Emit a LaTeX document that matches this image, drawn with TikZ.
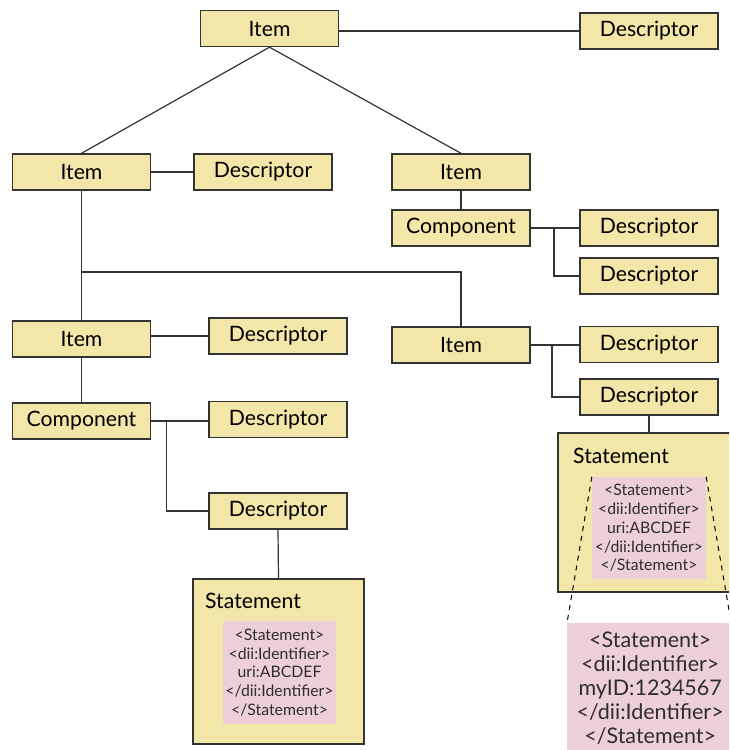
\documentclass[tikz,border=0pt]{standalone}
\usepackage{fontspec}
\setmainfont{Lato}
\usetikzlibrary{calc}
\definecolor{boxyellow}{HTML}{F2E6A8}
\definecolor{boxpink}{HTML}{ECCFD8}
\definecolor{edgegrey}{HTML}{333333}
\tikzset{
  ybox/.style={draw=edgegrey, line width=1.4pt, fill=boxyellow, minimum width=138pt, minimum height=36pt, inner sep=0pt, font=\fontsize{21.2}{23}\selectfont},
  stbox/.style={draw=edgegrey, line width=1.4pt, fill=boxyellow, inner sep=0pt},
  pinkbox/.style={fill=boxpink, inner sep=0pt, align=center, text=edgegrey!90!black},
  smalltxt/.style={font=\fontsize{15.8}{18.7}\selectfont},
  bigtxt/.style={font=\fontsize{21.5}{24}\selectfont},
  conn/.style={draw=edgegrey, line width=1.2pt},
  dashconn/.style={draw=black, line width=1pt, dashed, dash pattern=on 5pt off 5pt},
  sttitle/.style={anchor=west, inner sep=0pt, font=\fontsize{21.2}{23}\selectfont}
}
\begin{document}
\begin{tikzpicture}[x=1pt,y=-1pt]
\useasboundingbox (0,0) rectangle (729,750);
\clip (0,0) rectangle (729,750);
% boxes
\node[ybox] (itop) at (269.5,28.5) {Item};
\node[ybox] (dtop) at (649,31) {Descriptor};
\node[ybox] (iL1) at (81.5,172) {Item};
\node[ybox] (dL1) at (263,172) {Descriptor};
\node[ybox] (iR1) at (461,172) {Item};
\node[ybox] (cR) at (461,228) {Component};
\node[ybox] (dR1) at (649,228) {Descriptor};
\node[ybox] (dR2) at (649,276) {Descriptor};
\node[ybox] (iR2) at (461,345) {Item};
\node[ybox] (dR3) at (649,344.5) {Descriptor};
\node[ybox] (dR4) at (649,397) {Descriptor};
\node[ybox] (iL2) at (81.5,339) {Item};
\node[ybox] (dL2) at (278,336) {Descriptor};
\node[ybox] (cL) at (81.5,421) {Component};
\node[ybox] (dL3) at (278,419.5) {Descriptor};
\node[ybox] (dL4) at (278,511) {Descriptor};
% statement boxes
\node[stbox, minimum width=171pt, minimum height=165pt] (stL) at (278.5,661.5) {};
\node[sttitle] (stLt) at (205,601) {Statement};
\node[pinkbox, smalltxt, minimum width=113pt, minimum height=103pt] (pkL) at (279.5,672.5)
  {<Statement>\\<dii:Identifier>\\uri:ABCDEF\\</dii:Identifier>\\</Statement>};
\node[stbox, minimum width=180pt, minimum height=159pt] (stR) at (648,512.5) {};
\node[sttitle] (stRt) at (573,456) {Statement};
\node[pinkbox, smalltxt, minimum width=114pt, minimum height=102pt] (pkR) at (649,528)
  {<Statement>\\<dii:Identifier>\\uri:ABCDEF\\</dii:Identifier>\\</Statement>};
\node[pinkbox, bigtxt, minimum width=166pt, minimum height=130pt, anchor=north west] (pkBig) at (567,623)
  {<Statement>\\<dii:Identifier>\\myID:1234567\\</dii:Identifier>\\</Statement>};
% connectors
\draw[conn] (dtop.west) -- (dtop.west -| itop.east);
\draw[conn] (itop.south) -- (iL1.north);
\draw[conn] (itop.south) -- (iR1.north);
\draw[conn] (iL1.east) -- (dL1.west);
\draw[conn] (iR1.south) -- (cR.north);
\coordinate (jR) at ($(cR.east)!0.48!(dR1.west)$);
\draw[conn] (cR.east) -- (dR1.west);
\draw[conn] (jR) |- (dR2.west);
\draw[conn] (iL1.south) -- (iL2.north);
\coordinate (jL) at ($(iL1.south)!0.5!(iL2.north)$);
\coordinate (jL) at (jL |- 0,272);
\draw[conn] (jL) -| (iR2.north);
\coordinate (jR2) at ($(iR2.east)!0.44!(dR3.west)$);
\draw[conn] (iR2.east) -- (iR2.east -| dR3.west);
\draw[conn] (jR2) |- (dR4.west);
\draw[conn] (dR4.south) -- (dR4.south |- stR.north);
\draw[conn] (dL2.west) -- (dL2.west -| iL2.east);
\draw[conn] (iL2.south) -- (cL.north);
\coordinate (jC) at ($(cL.east)!0.27!(dL3.west)$);
\draw[conn] (cL.east) -- (cL.east -| dL3.west);
\draw[conn] (jC) |- (dL4.west);
\draw[conn] (dL4.south) -- (stL.north);
% zoom lines
\draw[dashconn] (pkR.north west) -- (pkBig.north west);
\draw[dashconn] (pkR.north east) -- ($(pkR.north east)!1.07!(729.5,613)$);
\end{tikzpicture}
\end{document}
